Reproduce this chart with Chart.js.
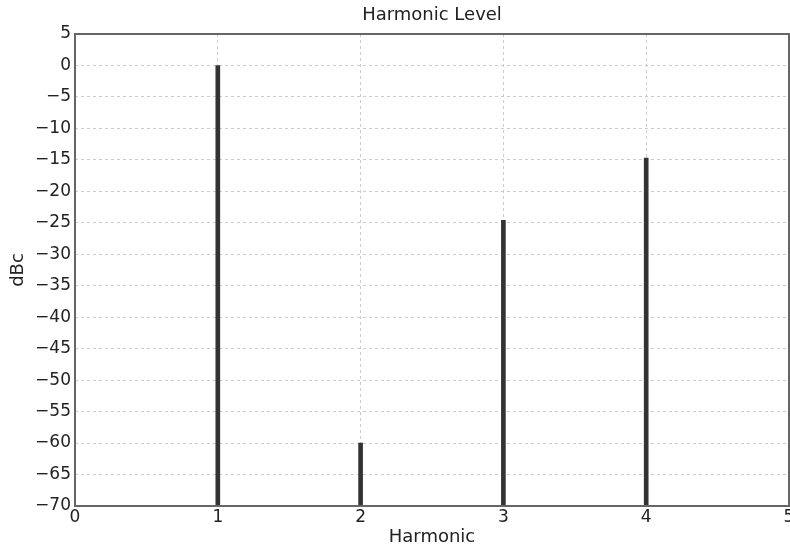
<!DOCTYPE html>
<html>
<head>
<meta charset="utf-8"/>
<title>Harmonic Level</title>
<script src="https://cdn.jsdelivr.net/npm/chart.js@4.4.1/dist/chart.umd.min.js"></script>
<style>
  html, body { margin: 0; padding: 0; background: #fff; }
  #wrap { width: 790px; height: 548px; position: relative; }
</style>
</head>
<body>
<div id="wrap"><canvas id="chart"></canvas></div>
<script>
// harmonic number and level in dBc
var harmonics = [1, 2, 3, 4];
var levels = [0, -60, -24.6, -14.7];
var yMin = -70, yMax = 5, yStep = 5;
var xMin = 0, xMax = 5;

// frame round the plot, like the matplotlib axes box
var frame = {
    id: 'frame',
    afterDatasetsDraw: function(chart) {
        var a = chart.chartArea, c = chart.ctx;
        c.save();
        c.strokeStyle = '#666';
        c.lineWidth = 2;
        c.strokeRect(a.left, a.top, a.right - a.left, a.bottom - a.top);
        c.restore();
    }
};

function minus(v) { return String(v).replace('-', '\u2212'); }

var tickFont = { family: 'DejaVu Sans', size: 17 };
var labelFont = { family: 'DejaVu Sans', size: 18 };

var ctx = document.getElementById('chart').getContext('2d');
new Chart(ctx, {
    type: 'bar',
    data: {
        datasets: [{
            data: harmonics.map(function(h, i) { return { x: h, y: levels[i] }; }),
            base: yMin,
            backgroundColor: '#333',
            barThickness: 4
        }]
    },
    options: {
        responsive: true,
        maintainAspectRatio: false,
        animation: false,
        layout: { padding: 0 },
        plugins: {
            legend: { display: false },
            tooltip: { enabled: false }
        },
        scales: {
            x: {
                type: 'linear',
                offset: false,
                min: xMin, max: xMax,
                ticks: { stepSize: 1, color: '#222', padding: 1, font: tickFont },
                grid: { color: '#ccc', drawTicks: false, offset: false },
                border: { display: false, dash: [3, 3] },
                title: { display: true, text: 'Harmonic', color: '#222', padding: 0, font: labelFont },
                afterFit: function(s) { s.height = 42; s.paddingLeft = 0; s.paddingRight = 1; }
            },
            // top axis only carries the chart title, centred over the plot
            top: {
                type: 'linear',
                position: 'top',
                min: xMin, max: xMax,
                ticks: { display: false },
                grid: { display: false },
                border: { display: false },
                title: { display: true, text: 'Harmonic Level', color: '#222',
                         padding: { top: 5, bottom: 6 }, font: labelFont },
                afterFit: function(s) { s.height = 34; s.paddingLeft = 0; s.paddingRight = 1; }
            },
            y: {
                min: yMin, max: yMax,
                ticks: { stepSize: yStep, color: '#222', padding: 4, font: tickFont,
                         callback: function(v) { return minus(v); } },
                grid: { color: '#ccc', drawTicks: false },
                border: { display: false, dash: [3, 3] },
                title: { display: true, text: 'dBc', color: '#222',
                         padding: { top: 8, bottom: 0 }, font: labelFont },
                afterFit: function(s) { s.width = 75; s.paddingTop = 0; s.paddingBottom = 0; }
            }
        }
    },
    plugins: [frame]
});
</script>
</body>
</html>
